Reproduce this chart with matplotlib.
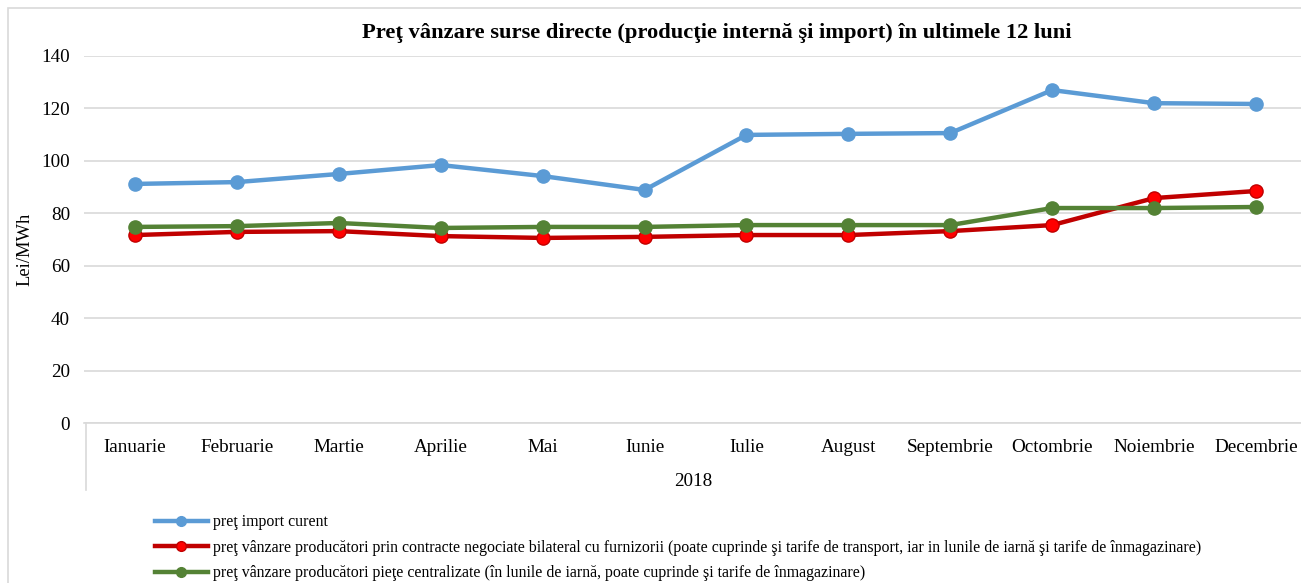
import matplotlib.pyplot as plt
from matplotlib.lines import Line2D
from matplotlib.patches import Rectangle

months = ["Ianuarie", "Februarie", "Martie", "Aprilie", "Mai", "Iunie",
          "Iulie", "August", "Septembrie", "Octombrie", "Noiembrie", "Decembrie"]
import_price = [91.2, 91.9, 95.0, 98.4, 94.2, 88.9, 109.9, 110.3, 110.6, 127.0, 122.0, 121.7]
bilateral_price = [71.7, 72.9, 73.2, 71.3, 70.6, 71.0, 71.7, 71.7, 73.2, 75.5, 85.8, 88.5]
central_price = [74.8, 75.1, 76.3, 74.4, 74.8, 74.8, 75.5, 75.5, 75.5, 82.0, 82.0, 82.4]

labels = [
    "preţ import curent",
    "preţ vânzare producători prin contracte negociate bilateral cu furnizorii (poate cuprinde şi tarife de transport, iar in lunile de iarnă şi tarife de înmagazinare)",
    "preţ vânzare producători pieţe centralizate (în lunile de iarnă, poate cuprinde şi tarife de înmagazinare)",
]

plt.rcParams['font.family'] = ['Liberation Serif', 'DejaVu Serif']

W, H = 1301, 583
fig = plt.figure(figsize=(W / 100, H / 100), dpi=100)

# outer chart border
fig.patches.append(Rectangle((8 / W, -0.01), 1.0, 1 - 8 / H + 0.01, transform=fig.transFigure,
                             fill=False, edgecolor='#d9d9d9', linewidth=1.2))

ax = fig.add_axes([84 / W, 1 - 423 / H, (1307 - 84) / W, (423 - 56) / H])
x = list(range(len(months)))

ax.plot(x, import_price, color='#5b9bd5', lw=3.2, marker='o', ms=9.5,
        mfc='#5b9bd5', mec='#5b9bd5', zorder=3)
ax.plot(x, bilateral_price, color='#c00000', lw=3.2, marker='o', ms=9.5,
        mfc='#ff0000', mec='#c00000', mew=1, zorder=3)
ax.plot(x, central_price, color='#548235', lw=3.2, marker='o', ms=9.5,
        mfc='#548235', mec='#548235', zorder=4)

ax.set_xlim(-0.5, 11.5)
ax.set_ylim(0, 140)
ax.set_yticks(range(0, 141, 20))
ax.grid(axis='y', color='#d9d9d9', lw=1.2)
ax.set_axisbelow(True)
for s in ['top', 'right', 'left']:
    ax.spines[s].set_visible(False)
ax.spines['bottom'].set_color('#d9d9d9')
ax.spines['bottom'].set_linewidth(1.2)
ax.tick_params(axis='both', length=0, labelsize=13.8, colors='black')
ax.tick_params(axis='y', pad=10)
ax.tick_params(axis='x', pad=11.5)
ax.set_xticks(x)
ax.set_xticklabels(months)

ax.set_ylabel("Lei/MWh", fontsize=13.3)
ax.yaxis.set_label_coords(-0.0417, 0.474)

# category group line and label
fig.add_artist(Line2D([86 / W, 86 / W], [1 - 423 / H, 1 - 490 / H], transform=fig.transFigure,
                      color='#d9d9d9', lw=1.2))
fig.text(693 / W, 1 - 481 / H, "2018", ha='center', va='center', fontsize=13.8)

fig.text(717 / W, 1 - 33 / H,
         "Preţ vânzare surse directe (producţie internă şi import) în ultimele 12 luni",
         ha='center', va='center', fontsize=16.2, fontweight='bold')

handles = [
    Line2D([], [], color='#5b9bd5', lw=3.2, marker='o', ms=7, mfc='#5b9bd5', mec='#5b9bd5'),
    Line2D([], [], color='#c00000', lw=3.2, marker='o', ms=7, mfc='#ff0000', mec='#c00000'),
    Line2D([], [], color='#548235', lw=3.2, marker='o', ms=7, mfc='#548235', mec='#548235'),
]
fig.legend(handles, labels, loc='upper left', bbox_to_anchor=(149 / W, 1 - 508 / H),
           frameon=False, fontsize=11.4, handlelength=3.3, handletextpad=0.35,
           labelspacing=0.6, borderaxespad=0)

fig.savefig("out.png", dpi=100)
